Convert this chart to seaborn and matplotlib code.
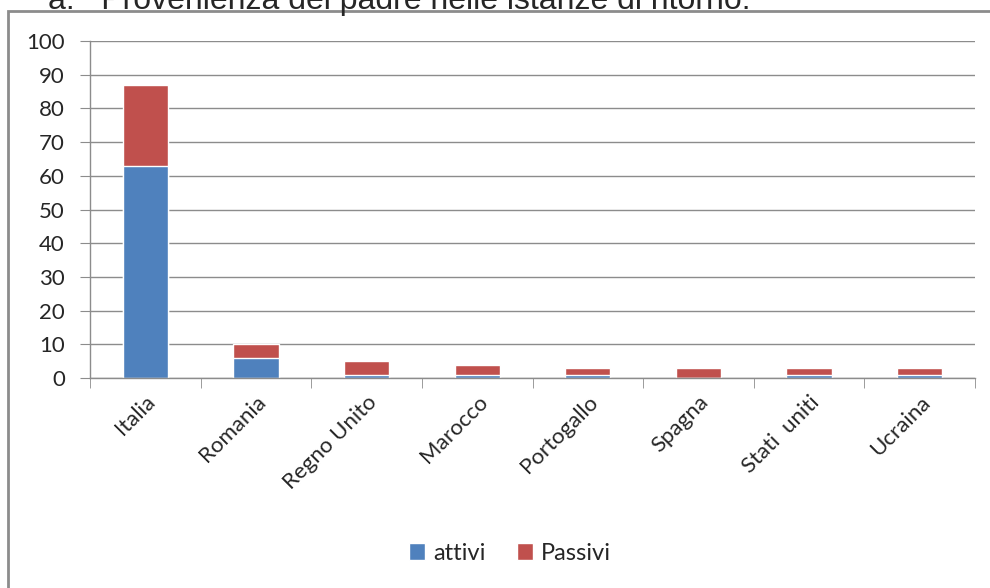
import numpy as np
import pandas as pd
import matplotlib
matplotlib.use('Agg')
import matplotlib.pyplot as plt
from matplotlib.patches import Rectangle
import seaborn as sns

paesi = ['Italia', 'Romania', 'Regno Unito', 'Marocco', 'Portogallo',
         'Spagna', 'Stati  uniti', 'Ucraina']
attivi = [63, 6, 1, 1, 1, 0, 1, 1]
passivi = [24, 4, 4, 3, 2, 3, 2, 2]

df = pd.DataFrame({'paese': paesi, 'attivi': attivi, 'passivi': passivi})
df['totale'] = df['attivi'] + df['passivi']

sns.set_style('white')
plt.rcParams['font.family'] = ['Lato', 'DejaVu Sans']

blu = '#4F81BD'
rosso = '#C0504D'
grigio = '#8C8C8C'

fig = plt.figure(figsize=(9.9, 5.88), dpi=100)
ax = fig.add_axes([90/990, 1-378/588, (975-90)/990, (378-41)/588])

# barre impilate: totale (rosso) sotto, attivi (blu) sopra
sns.barplot(data=df, x='paese', y='totale', color=rosso, width=0.41,
            saturation=1, ax=ax, label='Passivi')
sns.barplot(data=df, x='paese', y='attivi', color=blu, width=0.41,
            saturation=1, ax=ax, label='attivi')
if ax.get_legend() is not None:
    ax.get_legend().remove()

ax.set_ylim(0, 100)
ax.set_xlim(-0.5, len(paesi) - 0.5)
ax.set_yticks(range(0, 101, 10))
ax.yaxis.grid(True, color=grigio, linewidth=1)
ax.set_axisbelow(True)
ax.set_xlabel('')
ax.set_ylabel('')

for s in ['top', 'right']:
    ax.spines[s].set_visible(False)
for s in ['left', 'bottom']:
    ax.spines[s].set_color(grigio)
    ax.spines[s].set_linewidth(1)

ax.tick_params(axis='y', length=7, color=grigio, labelsize=16, pad=11, left=True)
ax.set_xticks(np.arange(len(paesi)))
ax.set_xticklabels(paesi, rotation=45, ha='right', rotation_mode='anchor', fontsize=16)
ax.tick_params(axis='x', which='major', length=0, pad=10)
ax.set_xticks(np.arange(-0.5, len(paesi)), minor=True)
ax.tick_params(axis='x', which='minor', length=7, color=grigio, bottom=True)

h, l = ax.get_legend_handles_labels()
ordine = [l.index('attivi'), l.index('Passivi')]
fig.legend([h[i] for i in ordine], [l[i] for i in ordine], loc='center',
           bbox_to_anchor=(510/990, 1-553/588), ncol=2, frameon=False,
           fontsize=17, handlelength=0.7, handleheight=0.7, columnspacing=1.3,
           handletextpad=0.35)

# cornice esterna (tagliata a destra e in basso come nell'originale)
fig.add_artist(Rectangle((8/990, -0.1), 1.2, 1 - 11/588 + 0.1,
                         transform=fig.transFigure, fill=False,
                         edgecolor=grigio, linewidth=2))

fig.text(48/990, 1-9/588, 'a.   Provenienza del padre nelle istanze di ritorno.',
         fontsize=23, family=['Liberation Sans', 'DejaVu Sans'], va='baseline')

fig.savefig('out.png', dpi=100)
